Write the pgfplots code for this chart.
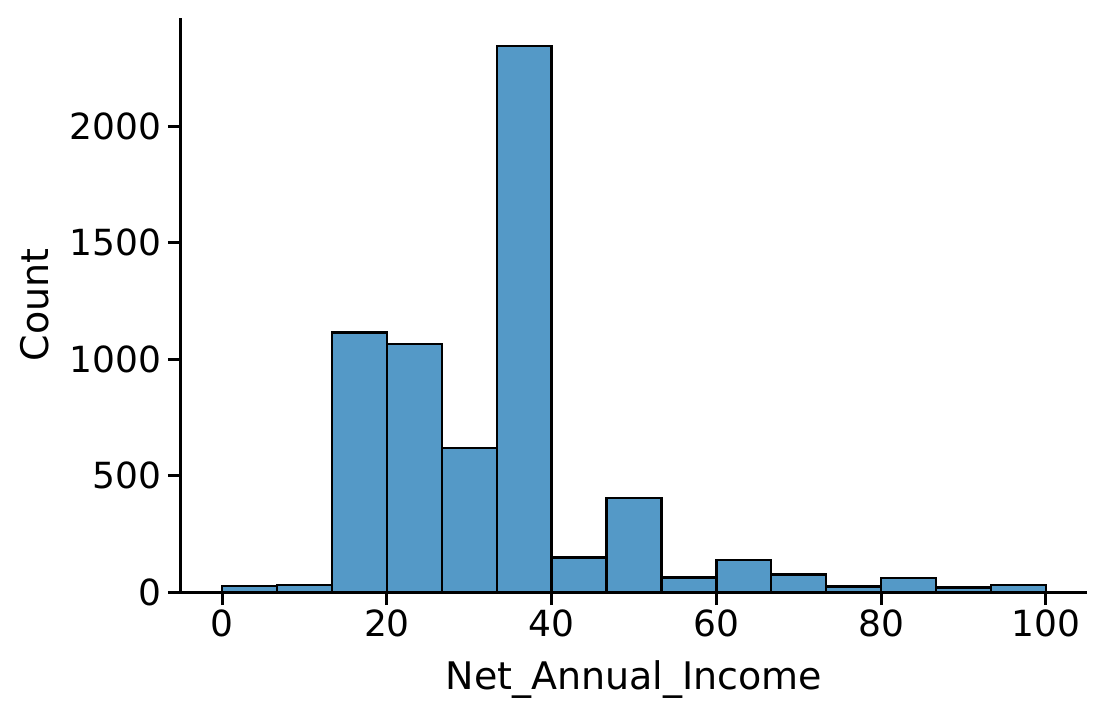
\documentclass[border=0pt]{standalone}
\usepackage{pgfplots}
\pgfplotsset{compat=1.18}
\usepackage{fontspec}
\setmainfont{DejaVu Sans}
\definecolor{sbblue}{RGB}{84,153,199}
\begin{document}
\begin{tikzpicture}
\begin{axis}[
  at={(0,0)}, anchor=south west,
  scale only axis, width=453pt, height=287pt,
  xmin=-5, xmax=105, ymin=0, ymax=2465,
  axis x line*=bottom, axis y line*=left,
  axis line style={line width=1.5pt, -},
  xtick={0,20,40,60,80,100},
  ytick={0,500,1000,1500,2000},
  tick align=outside, major tick length=6.5pt,
  tick style={line width=1.5pt, black},
  /pgf/number format/assume math mode=true,
  /pgf/number format/1000 sep={},
  ticklabel style={font=\fontsize{18}{21}\selectfont},
  xticklabel style={yshift=1pt},
  xlabel={Net\_Annual\_Income},
  ylabel={Count},
  label style={font=\fontsize{19}{22}\selectfont},
  xlabel style={at={(axis description cs:0.5,-0.169)}, anchor=base},
  ylabel style={at={(axis description cs:-0.1457,0.5)}, anchor=base, rotate=0},
  clip=false,
]
\addplot[ybar interval, fill=sbblue, draw=black, line width=1.2pt] coordinates {
(0,25) (6.6667,30) (13.3333,1115) (20,1065) (26.6667,618) (33.3333,2345)
(40,149) (46.6667,403) (53.3333,63) (60,138) (66.6667,76) (73.3333,23)
(80,59) (86.6667,19) (93.3333,29) (100,29)
};
\end{axis}
\pgfresetboundingbox
\path[use as bounding box] (-90.5pt,-63pt) rectangle (462.5pt,296pt);
\end{tikzpicture}
\end{document}
